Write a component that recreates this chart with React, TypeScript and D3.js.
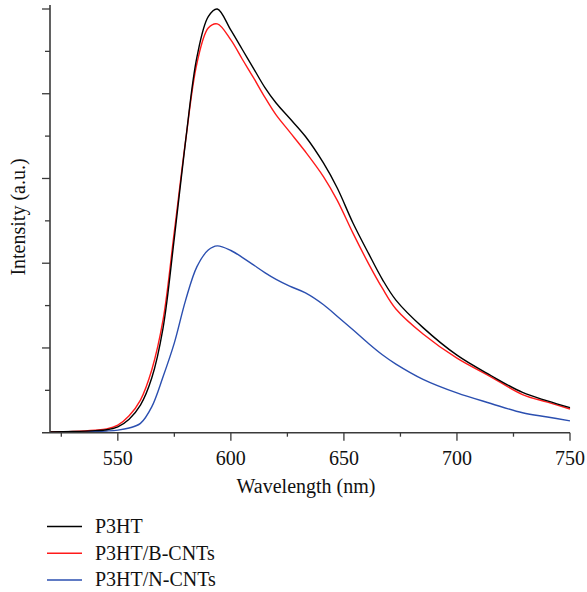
import React from "react";
import * as d3 from "d3";

const wavelengths = [520, 530, 540, 545, 550, 555, 560, 565, 570, 575, 580, 585, 590, 594, 600, 605, 610, 615, 620, 626, 633, 641, 647, 654, 661, 667, 673, 685, 700, 715, 729, 740, 750];
const p3ht = [0.02, 0.03, 0.05, 0.07, 0.14, 0.32, 0.65, 1.29, 2.47, 4.6, 6.9, 8.87, 9.82, 10.0, 9.5, 9.05, 8.6, 8.15, 7.78, 7.42, 6.99, 6.36, 5.78, 4.95, 4.22, 3.62, 3.13, 2.48, 1.83, 1.35, 0.95, 0.75, 0.59];
const p3htB = [0.02, 0.03, 0.06, 0.09, 0.18, 0.4, 0.77, 1.48, 2.66, 4.75, 6.9, 8.72, 9.55, 9.65, 9.27, 8.82, 8.38, 7.92, 7.5, 7.1, 6.63, 6.04, 5.49, 4.71, 3.98, 3.41, 2.92, 2.33, 1.76, 1.32, 0.9, 0.72, 0.56];
const p3htN = [0.01, 0.02, 0.03, 0.04, 0.06, 0.11, 0.22, 0.61, 1.32, 2.12, 3.13, 3.92, 4.31, 4.41, 4.3, 4.14, 3.96, 3.78, 3.62, 3.46, 3.3, 3.02, 2.75, 2.43, 2.1, 1.84, 1.62, 1.26, 0.94, 0.69, 0.47, 0.37, 0.28];

const seriesNames = ["P3HT", "P3HT/B-CNTs", "P3HT/N-CNTs"];
const seriesColors = ["#000000", "#ff1a1a", "#2b4fb0"];
const seriesValues = [p3ht, p3htB, p3htN];

const xMajorTicks = [550, 600, 650, 700, 750];
const xMinorTicks = [525, 575, 625, 675, 725];
const yMajorTicks = [0, 2, 4, 6, 8, 10];
const yMinorTicks = [1, 3, 5, 7, 9];

const FONT = "Liberation Serif, DejaVu Serif, serif";
const textStyle = { fontFamily: FONT, fontSize: "20px" };

export default function App() {
  const x = d3.scaleLinear().domain([520, 750]).range([50, 570]);
  const y = d3.scaleLinear().domain([0, 10]).range([432.7, 9]);
  const line = d3
    .line<number>()
    .x((_, i) => x(wavelengths[i]))
    .y((d) => y(d))
    .curve(d3.curveCatmullRom.alpha(0.5));

  const axisColor = "#3a3a3a";
  const y0 = y(0);

  return (
    <svg
      width={587}
      height={592}
      style={{ position: "absolute", left: 0, top: 0, background: "#fff" }}
    >
      {seriesValues
        .map((vals, i) => (
          <path key={i} d={line(vals) || ""} fill="none" stroke={seriesColors[i]} strokeWidth={1.4} />
        ))
        .reverse()}

      <line x1={50} x2={50} y1={5} y2={y0} stroke={axisColor} strokeWidth={1.6} />
      {yMajorTicks.slice(1).map((t) => (
        <line key={"ym" + t} x1={42} x2={50} y1={y(t)} y2={y(t)} stroke={axisColor} strokeWidth={1.3} />
      ))}
      {yMinorTicks.map((t) => (
        <line key={"yn" + t} x1={45} x2={50} y1={y(t)} y2={y(t)} stroke={axisColor} strokeWidth={1.3} />
      ))}

      <line x1={42} x2={570} y1={y0} y2={y0} stroke={axisColor} strokeWidth={1.6} />
      {xMajorTicks.map((t) => (
        <line key={"xm" + t} x1={x(t)} x2={x(t)} y1={y0} y2={y0 + 8} stroke={axisColor} strokeWidth={1.3} />
      ))}
      {xMinorTicks.map((t) => (
        <line key={"xn" + t} x1={x(t)} x2={x(t)} y1={y0} y2={y0 + 4} stroke={axisColor} strokeWidth={1.3} />
      ))}
      {xMajorTicks.map((t) => (
        <text key={"xl" + t} x={x(t)} y={465} textAnchor="middle" style={textStyle} fill="#111">
          {t}
        </text>
      ))}

      <text x={306} y={493} textAnchor="middle" style={textStyle} fill="#111">
        Wavelength (nm)
      </text>
      <text transform="translate(25,217) rotate(-90)" textAnchor="middle" style={textStyle} fill="#111">
        Intensity (a.u.)
      </text>

      {seriesNames.map((name, i) => {
        const cy = 526.5 + i * 26.7;
        return (
          <g key={name}>
            <line x1={47} x2={82} y1={cy} y2={cy} stroke={seriesColors[i]} strokeWidth={1.5} />
            <text x={95} y={cy + 6.5} style={textStyle} fill="#111">
              {name}
            </text>
          </g>
        );
      })}
    </svg>
  );
}
